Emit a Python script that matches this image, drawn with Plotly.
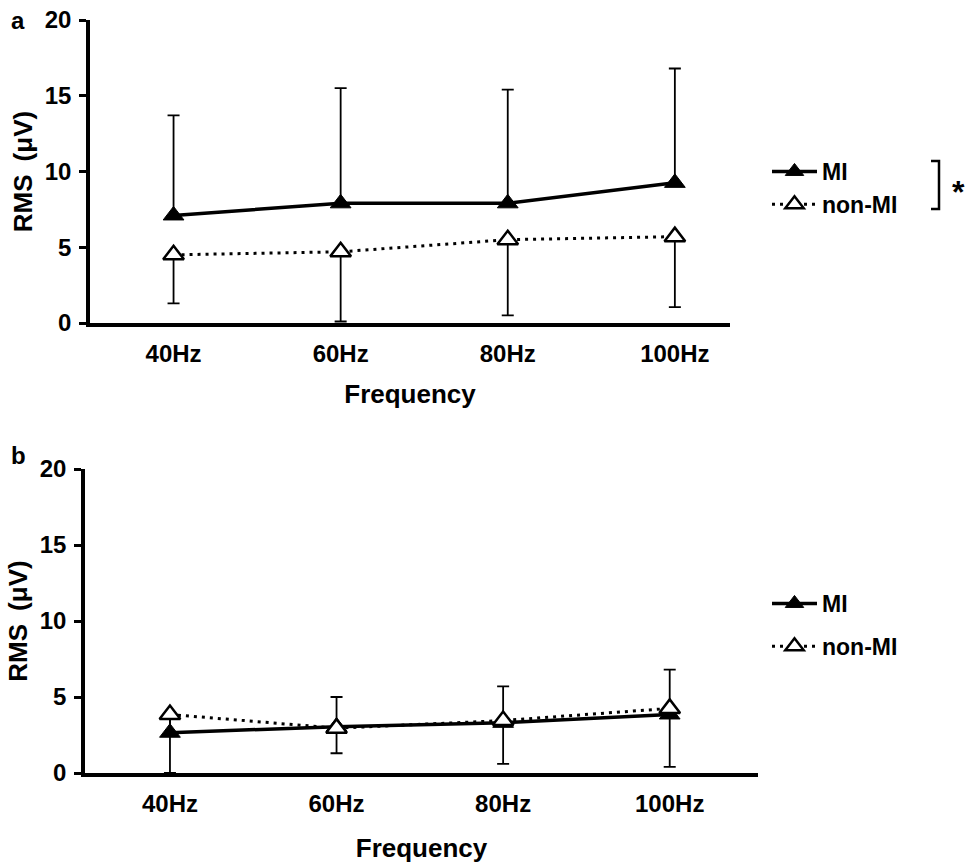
import plotly.graph_objects as go

categories = ["40Hz", "60Hz", "80Hz", "100Hz"]

# Panel a
a_mi = [7.1, 7.9, 7.9, 9.25]
a_mi_err_up = [6.6, 7.6, 7.5, 7.55]
a_non = [4.5, 4.7, 5.5, 5.7]
a_non_err_down = [3.2, 4.6, 5.0, 4.65]

# Panel b
b_mi = [2.65, 3.05, 3.3, 3.85]
b_mi_err_up = [1.0, 1.95, 2.4, 2.95]
b_non = [3.85, 2.95, 3.45, 4.25]
b_non_err_down = [3.85, 1.65, 2.85, 3.85]

FONT = "Liberation Sans, Arial, sans-serif"
x = list(range(len(categories)))

fig = go.Figure()


def add_panel(xa, ya, mi, mi_up, non, non_dn, legend):
    zeros = [0] * len(mi)
    fig.add_trace(go.Scatter(
        x=x, y=mi, mode="lines+markers", name="MI", xaxis=xa, yaxis=ya,
        legend=legend, legendgroup="mi" + legend,
        line=dict(color="black", width=3.5),
        marker=dict(symbol="triangle-up", size=18, color="black",
                    line=dict(color="black", width=1)),
        error_y=dict(type="data", symmetric=False, array=mi_up, arrayminus=zeros,
                     color="black", thickness=1.8, width=6),
    ))
    fig.add_trace(go.Scatter(
        x=x, y=non, mode="lines+markers", name="non-MI", xaxis=xa, yaxis=ya,
        legend=legend, legendgroup="non" + legend,
        line=dict(color="black", width=3, dash="3px,5px"),
        marker=dict(symbol="triangle-up", size=18, color="white",
                    line=dict(color="black", width=2.5)),
        error_y=dict(type="data", symmetric=False, array=zeros, arrayminus=non_dn,
                     color="black", thickness=1.8, width=6),
    ))


add_panel("x", "y", a_mi, a_mi_err_up, a_non, a_non_err_down, "legend")
add_panel("x2", "y2", b_mi, b_mi_err_up, b_non, b_non_err_down, "legend2")

W, H = 966, 866


def px(v):
    return v / W


def py(v):
    return 1 - v / H


def xaxis_common(standoff):
    return dict(
        tickmode="array", tickvals=x, ticktext=categories,
        showline=True, linecolor="black", linewidth=3.5,
        ticks="", showgrid=False, zeroline=False, automargin=False,
        tickfont=dict(size=24, family=FONT, color="black", weight="bold"),
        ticklabelstandoff=6,
        title=dict(text="Frequency", font=dict(size=26, family=FONT, color="black", weight="bold"),
                   standoff=standoff),
    )


yaxis_common = dict(
    range=[0, 20], tickvals=[0, 5, 10, 15, 20],
    showline=True, linecolor="black", linewidth=3.5,
    ticks="outside", ticklen=7, tickwidth=3, tickcolor="black",
    showgrid=False, zeroline=False, automargin=False,
    tickfont=dict(size=24, family=FONT, color="black", weight="bold"),
    ticklabelstandoff=3,
    title=dict(text="RMS\u2002(\u03bcV)", font=dict(size=26, family=FONT, color="black", weight="bold"),
               standoff=6),
)

fig.update_layout(
    width=W, height=H, margin=dict(l=0, r=0, t=0, b=0, autoexpand=False),
    paper_bgcolor="white", plot_bgcolor="white",
    font=dict(family=FONT, color="black", weight="bold"),
    xaxis=dict(domain=[px(90), px(730)], range=[-0.5, 3.33], anchor="y", **xaxis_common(20)),
    yaxis=dict(domain=[py(323), py(20)], anchor="x", **yaxis_common),
    xaxis2=dict(domain=[px(85), px(758)], range=[-0.51, 3.53], anchor="y2", **xaxis_common(24)),
    yaxis2=dict(domain=[py(773), py(469)], anchor="x2", **yaxis_common),
    legend=dict(x=px(767), y=py(150), xanchor="left", yanchor="top",
                font=dict(size=23, family=FONT, color="black", weight="bold"),
                bgcolor="rgba(0,0,0,0)", traceorder="grouped", tracegroupgap=0,
                itemwidth=45),
    legend2=dict(x=px(767), y=py(582), xanchor="left", yanchor="top",
                 font=dict(size=23, family=FONT, color="black", weight="bold"),
                 bgcolor="rgba(0,0,0,0)", traceorder="grouped", tracegroupgap=10,
                 itemwidth=45),
    showlegend=True,
)

# significance bracket for panel a
fig.add_shape(type="path", xref="paper", yref="paper",
              path=f"M {px(931)} {py(161)} L {px(939)} {py(161)} L {px(939)} {py(209)} L {px(931)} {py(209)}",
              line=dict(color="black", width=2.5))
fig.add_annotation(x=px(958), y=py(192), xref="paper", yref="paper", text="*",
                   showarrow=False, xanchor="center", yanchor="middle",
                   font=dict(size=32, family=FONT, color="black", weight="bold"))

# panel letters
fig.add_annotation(x=px(18), y=py(20), xref="paper", yref="paper", text="a",
                   showarrow=False, xanchor="center", yanchor="middle",
                   font=dict(size=24, family=FONT, color="black", weight="bold"))
fig.add_annotation(x=px(18), y=py(455), xref="paper", yref="paper", text="b",
                   showarrow=False, xanchor="center", yanchor="middle",
                   font=dict(size=24, family=FONT, color="black", weight="bold"))

fig.write_html("out.html")
